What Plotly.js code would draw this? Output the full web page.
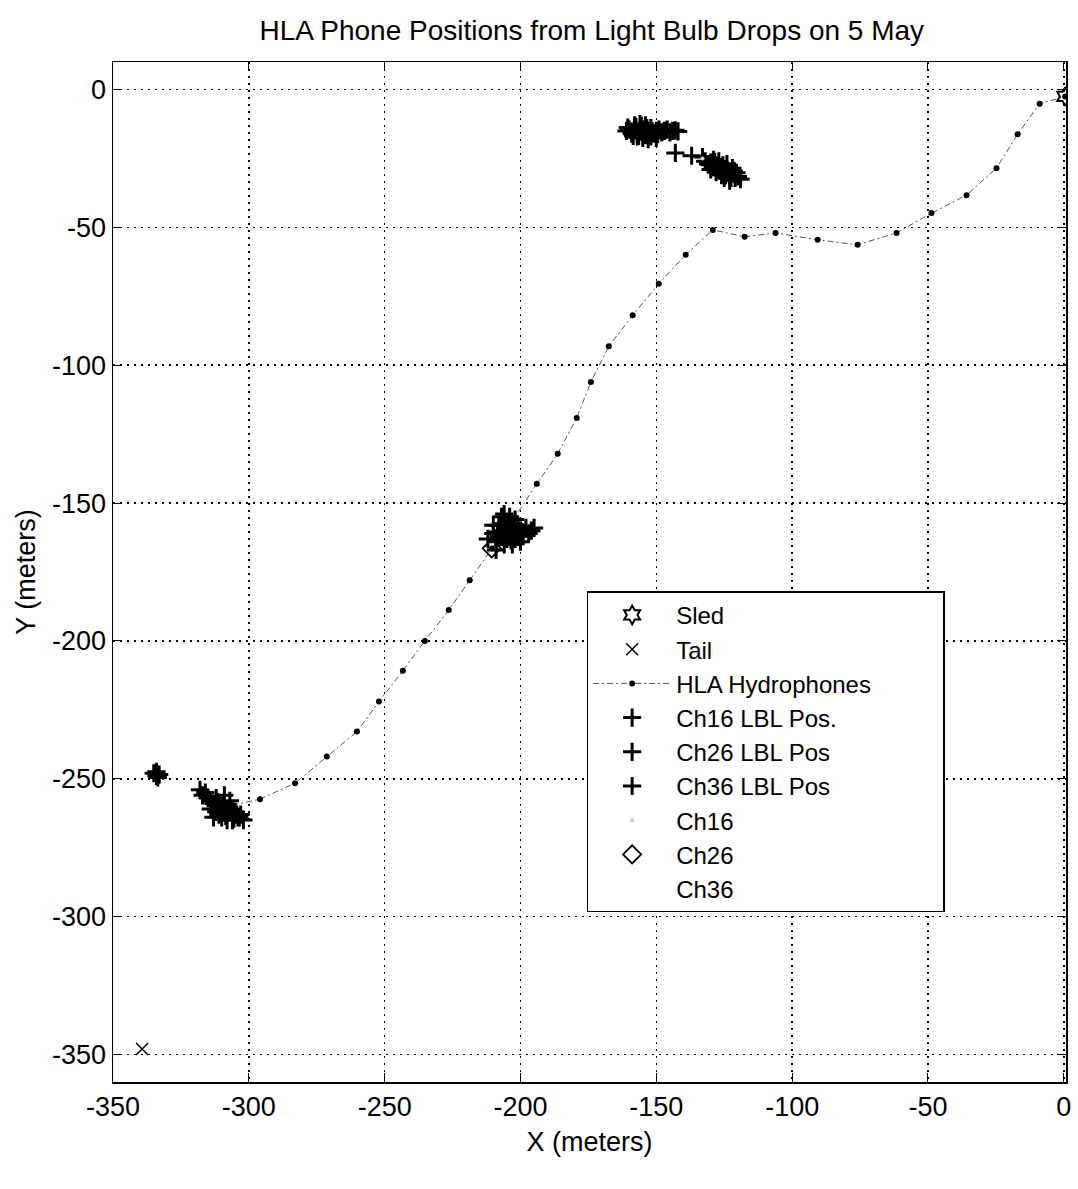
<!DOCTYPE html>
<html>
<head>
<meta charset="utf-8">
<script src="https://cdn.plot.ly/plotly-3.0.1.min.js"></script>
<style>html,body{margin:0;padding:0;background:#fff}#chart{width:1078px;height:1189px}</style>
</head>
<body>
<div id="chart"></div>
<script>
// ---- data ----
const sledX = [0.5];
const sledY = [-2.5];

const tailX = [-339.3];
const tailY = [-348];

const hlaX = [-306, -295.9, -283.0, -271.3, -260.2, -252.1, -243.3, -235.2, -226.4, -218.7,
              -210.5, -202.3, -194.0, -186.3, -179.3, -174.1, -167.5, -158.7, -149.1, -139.2,
              -129.2, -117.5, -106.1, -90.6, -75.9, -61.6, -48.7, -35.8, -24.8, -17.0, -8.9, 0.5];
const hlaY = [-259.6, -257.4, -251.6, -241.9, -232.9, -222.0, -210.8, -200.0, -188.8, -178.0,
              -166.5, -155.5, -143.0, -132.1, -119.1, -106.1, -93.1, -81.9, -70.4, -59.9,
              -50.9, -53.4, -52.0, -54.5, -56.3, -52.0, -44.8, -38.3, -28.5, -16.2, -5.1, -2.5];

const ch16LblX = [-161, -160, -159, -158, -157, -156, -155, -154, -153, -152, -151, -150, -149, -148,
                  -147, -146, -145, -144, -143, -142, -157, -155, -153, -158, -156, -154, -152, -150,
                  -159, -157.5, -156.5, -155.5, -153.5, -151.5, -149.5, -160.5, -158.5, -154.5,
                  -143, -137, -133,
                  -132, -131, -130, -129, -128, -127, -126, -125, -124, -123, -122, -121, -120, -119,
                  -128, -126, -124, -130, -125, -127, -122, -129, -123,
                  -127.5, -126.5, -125.5, -124.5, -123.5, -121.5, -129.5, -128.5, -122.5, -120.5];
const ch16LblY = [-15, -14.5, -15.5, -14, -16, -15, -14.5, -16.5, -15, -14, -16, -15, -14.5, -15.5,
                  -15, -14.5, -15.5, -15, -14.8, -15.2, -17, -17.5, -18, -13, -12.5, -13, -17, -17.5,
                  -16, -13.5, -16.8, -13.2, -14, -15.2, -16.2, -13.8, -16.8, -15.5,
                  -23, -24, -24.5,
                  -26, -27, -26.5, -28, -27.5, -29, -28, -30, -29, -31, -30.5, -32, -31.5, -32.5,
                  -30, -31, -27, -29, -32, -26, -28.5, -25.5, -33,
                  -28.5, -29.5, -27.5, -31, -29.8, -29.5, -27.2, -26.2, -32, -30.2];

const ch26LblX = [-212, -210, -209, -208, -207, -206, -205, -204, -203, -202, -201, -200, -199, -198,
                  -197, -196, -207, -204, -206, -203, -200, -209, -202, -205, -208, -201, -195, -210, -206,
                  -204.5, -202.5, -200.5, -206.5, -208.5, -203.5, -199.5, -205.5];
const ch26LblY = [-163, -161, -164, -158, -160, -162, -157, -159, -161, -163, -158, -160, -162, -159,
                  -161, -160, -155, -155, -165, -165, -164, -167, -156, -163, -162, -161, -159, -158, -154,
                  -161.5, -159.5, -162, -157.5, -160.5, -163.5, -160.5, -159.5];

const ch36LblX = [-318, -317, -316, -315, -314, -313, -312, -311, -310, -309, -308, -307, -306, -305,
                  -304, -303, -302, -312, -310, -308, -306, -314, -309, -311, -313, -307,
                  -310.5, -308.5, -306.5, -304.5, -311.5, -309.5, -305.5, -303.5,
                  -335, -334, -333, -334, -333.5];
const ch36LblY = [-254, -256, -255, -257, -258, -259, -257, -260, -261, -259, -262, -261, -263, -262,
                  -264, -263, -265, -262, -264, -265, -265, -261, -256, -263, -264, -258,
                  -262.5, -263.5, -261.5, -263, -258.5, -260.5, -264.5, -264,
                  -248, -249, -248.5, -247.5, -249.5];

const ch16X = [-133];
const ch16Y = [-25];
const ch26X = [-210.6];
const ch26Y = [-166.4];
const ch36X = [-310];
const ch36Y = [-260];

const seriesNames = ['Sled', 'Tail', 'HLA Hydrophones\u00a0\u00a0\u00a0\u00a0\u00a0\u00a0\u00a0\u00a0\u00a0\u00a0',
                     'Ch16 LBL Pos.', 'Ch26 LBL Pos', 'Ch36 LBL Pos', 'Ch16', 'Ch26', 'Ch36'];

const xTicks = [-350, -300, -250, -200, -150, -100, -50, 0];
const yTicks = [0, -50, -100, -150, -200, -250, -300, -350];

const FONT = 'Liberation Sans, Arial, sans-serif';

const crossMarker = {symbol: 'cross-thin-open', size: 13, color: '#000', line: {color: '#000', width: 3}};

const traces = [
  {x: sledX, y: sledY, name: seriesNames[0], mode: 'markers', type: 'scatter',
   marker: {symbol: 'hexagram-open', size: 14, color: '#000', line: {color: '#000', width: 2}}},
  {x: tailX, y: tailY, name: seriesNames[1], mode: 'markers', type: 'scatter',
   marker: {symbol: 'x-thin-open', size: 12, color: '#000', line: {color: '#444', width: 1.5}}},
  {x: hlaX, y: hlaY, name: seriesNames[2], mode: 'lines+markers', type: 'scatter',
   line: {color: '#555', width: 1, dash: '6px,3px,2px,3px'},
   marker: {symbol: 'circle', size: 6, color: '#000'}},
  {x: ch16LblX, y: ch16LblY, name: seriesNames[3], mode: 'markers', type: 'scatter', marker: crossMarker},
  {x: ch26LblX, y: ch26LblY, name: seriesNames[4], mode: 'markers', type: 'scatter', marker: crossMarker},
  {x: ch36LblX, y: ch36LblY, name: seriesNames[5], mode: 'markers', type: 'scatter', marker: crossMarker},
  {x: ch16X, y: ch16Y, name: seriesNames[6], mode: 'markers', type: 'scatter',
   marker: {symbol: 'circle', size: 4, color: '#ccc'}},
  {x: ch26X, y: ch26Y, name: seriesNames[7], mode: 'markers', type: 'scatter',
   marker: {symbol: 'diamond-open', size: 14, color: '#000', line: {color: '#000', width: 1.8}}},
  {x: ch36X, y: ch36Y, name: seriesNames[8], mode: 'markers', type: 'scatter',
   marker: {symbol: 'circle', size: 3, color: 'rgba(255,255,255,0)'}}
];

const axisCommon = {
  showgrid: true, gridcolor: '#000', gridwidth: 1.5, griddash: '1.5px,5.5px',
  zeroline: false, showline: true, linecolor: '#000', linewidth: 1.5, mirror: 'ticks',
  ticks: 'inside', ticklen: 9, tickcolor: '#000', tickwidth: 1,
  tickfont: {family: FONT, size: 27, color: '#000'}
};

const layout = {
  width: 1078, height: 1189,
  margin: {l: 113, r: 12, t: 62, b: 107},
  paper_bgcolor: '#fff', plot_bgcolor: '#fff',
  title: {text: 'HLA Phone Positions from Light Bulb Drops on 5 May',
          font: {family: FONT, size: 28, color: '#000'}, x: 0.549, xanchor: 'center', y: 0.975, yanchor: 'middle'},
  xaxis: Object.assign({}, axisCommon, {
    range: [-350, 0.8], tickvals: xTicks, ticktext: xTicks.map(String),
    title: {text: 'X (meters)', font: {family: FONT, size: 27, color: '#000'}, standoff: 11}
  }),
  yaxis: Object.assign({}, axisCommon, {
    range: [-360, 10], tickvals: yTicks, ticktext: yTicks.map(String),
    title: {text: 'Y (meters)', font: {family: FONT, size: 27, color: '#000'}, standoff: 8}
  }),
  showlegend: true,
  legend: {x: 0.497, y: 0.481, xanchor: 'left', yanchor: 'top',
           bgcolor: '#fff', bordercolor: '#000', borderwidth: 1.5,
           font: {family: FONT, size: 24, color: '#000'}, itemwidth: 78}
};

Plotly.newPlot('chart', traces, layout, {staticPlot: true, displayModeBar: false});
</script>
</body>
</html>
